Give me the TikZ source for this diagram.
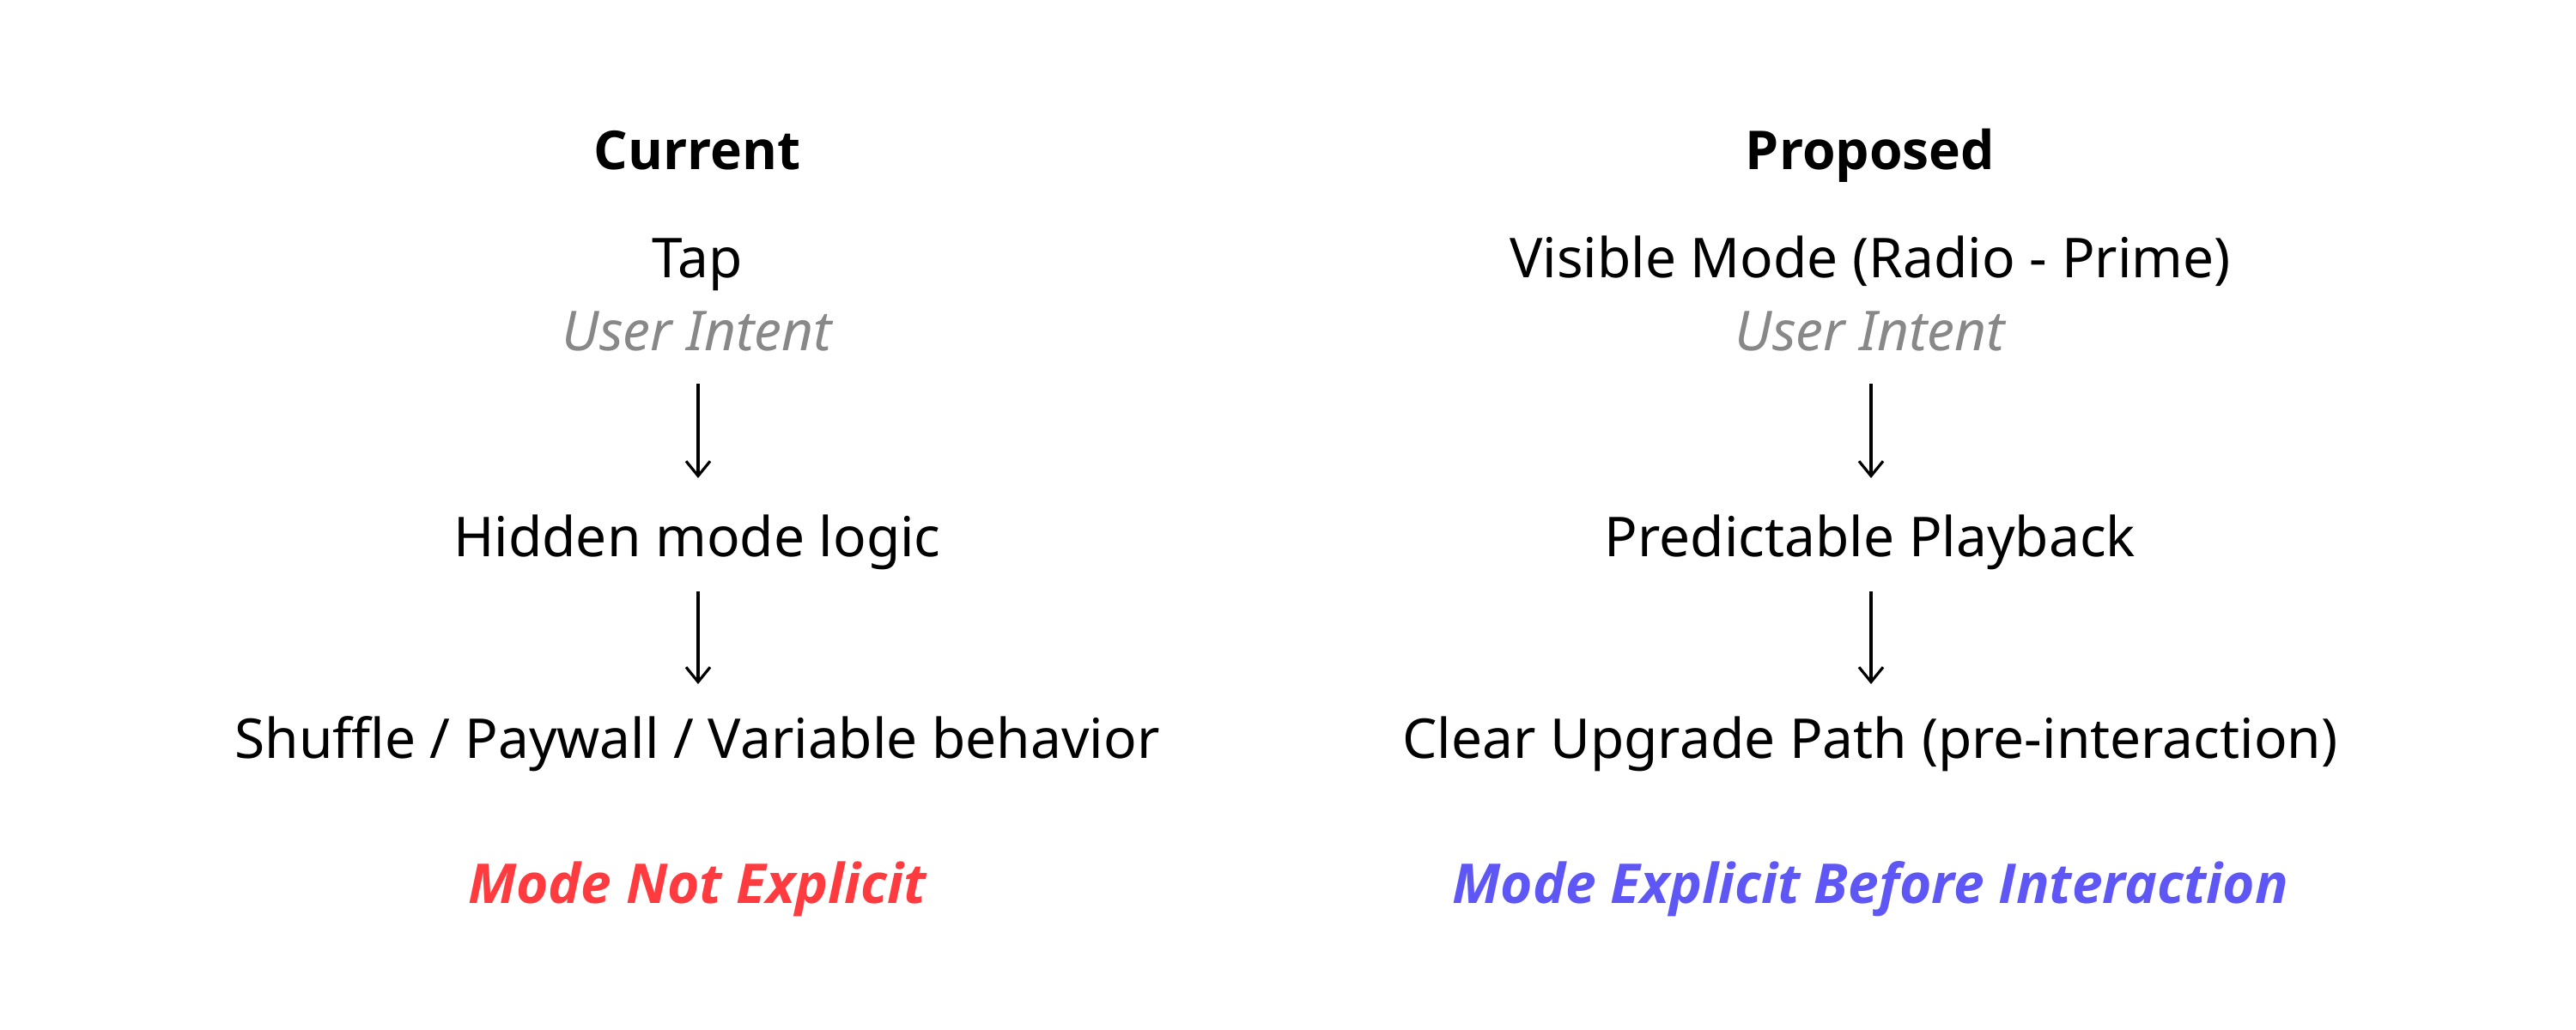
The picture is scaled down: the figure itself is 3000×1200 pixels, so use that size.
\documentclass[tikz,border=0pt]{standalone}
\usepackage{fontspec}
\setmainfont{Noto Sans}
\newfontfamily\headfont{Open Sans}
\usetikzlibrary{arrows.meta}
\definecolor{redlbl}{HTML}{FF3B3F}
\definecolor{purplbl}{HTML}{5E57F5}
\definecolor{graylbl}{HTML}{888888}
\tikzset{
  txt/.style={anchor=base, inner sep=0pt, font=\fontsize{16}{19}\selectfont},
  head/.style={txt, font=\fontsize{15.6}{19}\selectfont\headfont\bfseries},
  sub/.style={txt, font=\fontsize{16}{19}\selectfont\itshape, text=graylbl},
  concl/.style={txt, font=\fontsize{16}{19}\selectfont\headfont\bfseries\itshape},
  flow/.style={line width=0.8pt, -{Straight Barb[length=4.3pt,width=7pt,line width=0.8pt]}}
}
\begin{document}
\begin{tikzpicture}[x=0.25pt,y=-0.25pt]
\useasboundingbox (0,0) rectangle (3000,1200);
% left column
\node[head] (ch) at (812,197) {Current};
\node[txt] (ctap) at (812,323) {Tap};
\node[sub] (cui) at (812,408) {User Intent};
\node[txt] (chid) at (812,648) {Hidden mode logic};
\node[txt] (csh) at (812,883) {Shuffle / Paywall / Variable behavior};
\node[concl, text=redlbl] (cc) at (812,1052) {Mode Not Explicit};
\coordinate (ca1s) at (813,447);
\coordinate (ca1e) at (813,557);
\coordinate (ca2s) at (813,689);
\coordinate (ca2e) at (813,797);
\draw[flow] (ca1s) -- (ca1e);
\draw[flow] (ca2s) -- (ca2e);
% right column
\node[head] (ph) at (2178,197) {Proposed};
\node[txt] (pvis) at (2178,323) {Visible Mode (Radio - Prime)};
\node[sub] (pui) at (2178,408) {User Intent};
\node[txt] (ppred) at (2178,648) {Predictable Playback};
\node[txt] (pclr) at (2178,883) {Clear Upgrade Path (pre-interaction)};
\node[concl, text=purplbl] (pc) at (2178,1052) {Mode Explicit Before Interaction};
\coordinate (pa1s) at (2179,447);
\coordinate (pa1e) at (2179,557);
\coordinate (pa2s) at (2179,689);
\coordinate (pa2e) at (2179,797);
\draw[flow] (pa1s) -- (pa1e);
\draw[flow] (pa2s) -- (pa2e);
\end{tikzpicture}
\end{document}
